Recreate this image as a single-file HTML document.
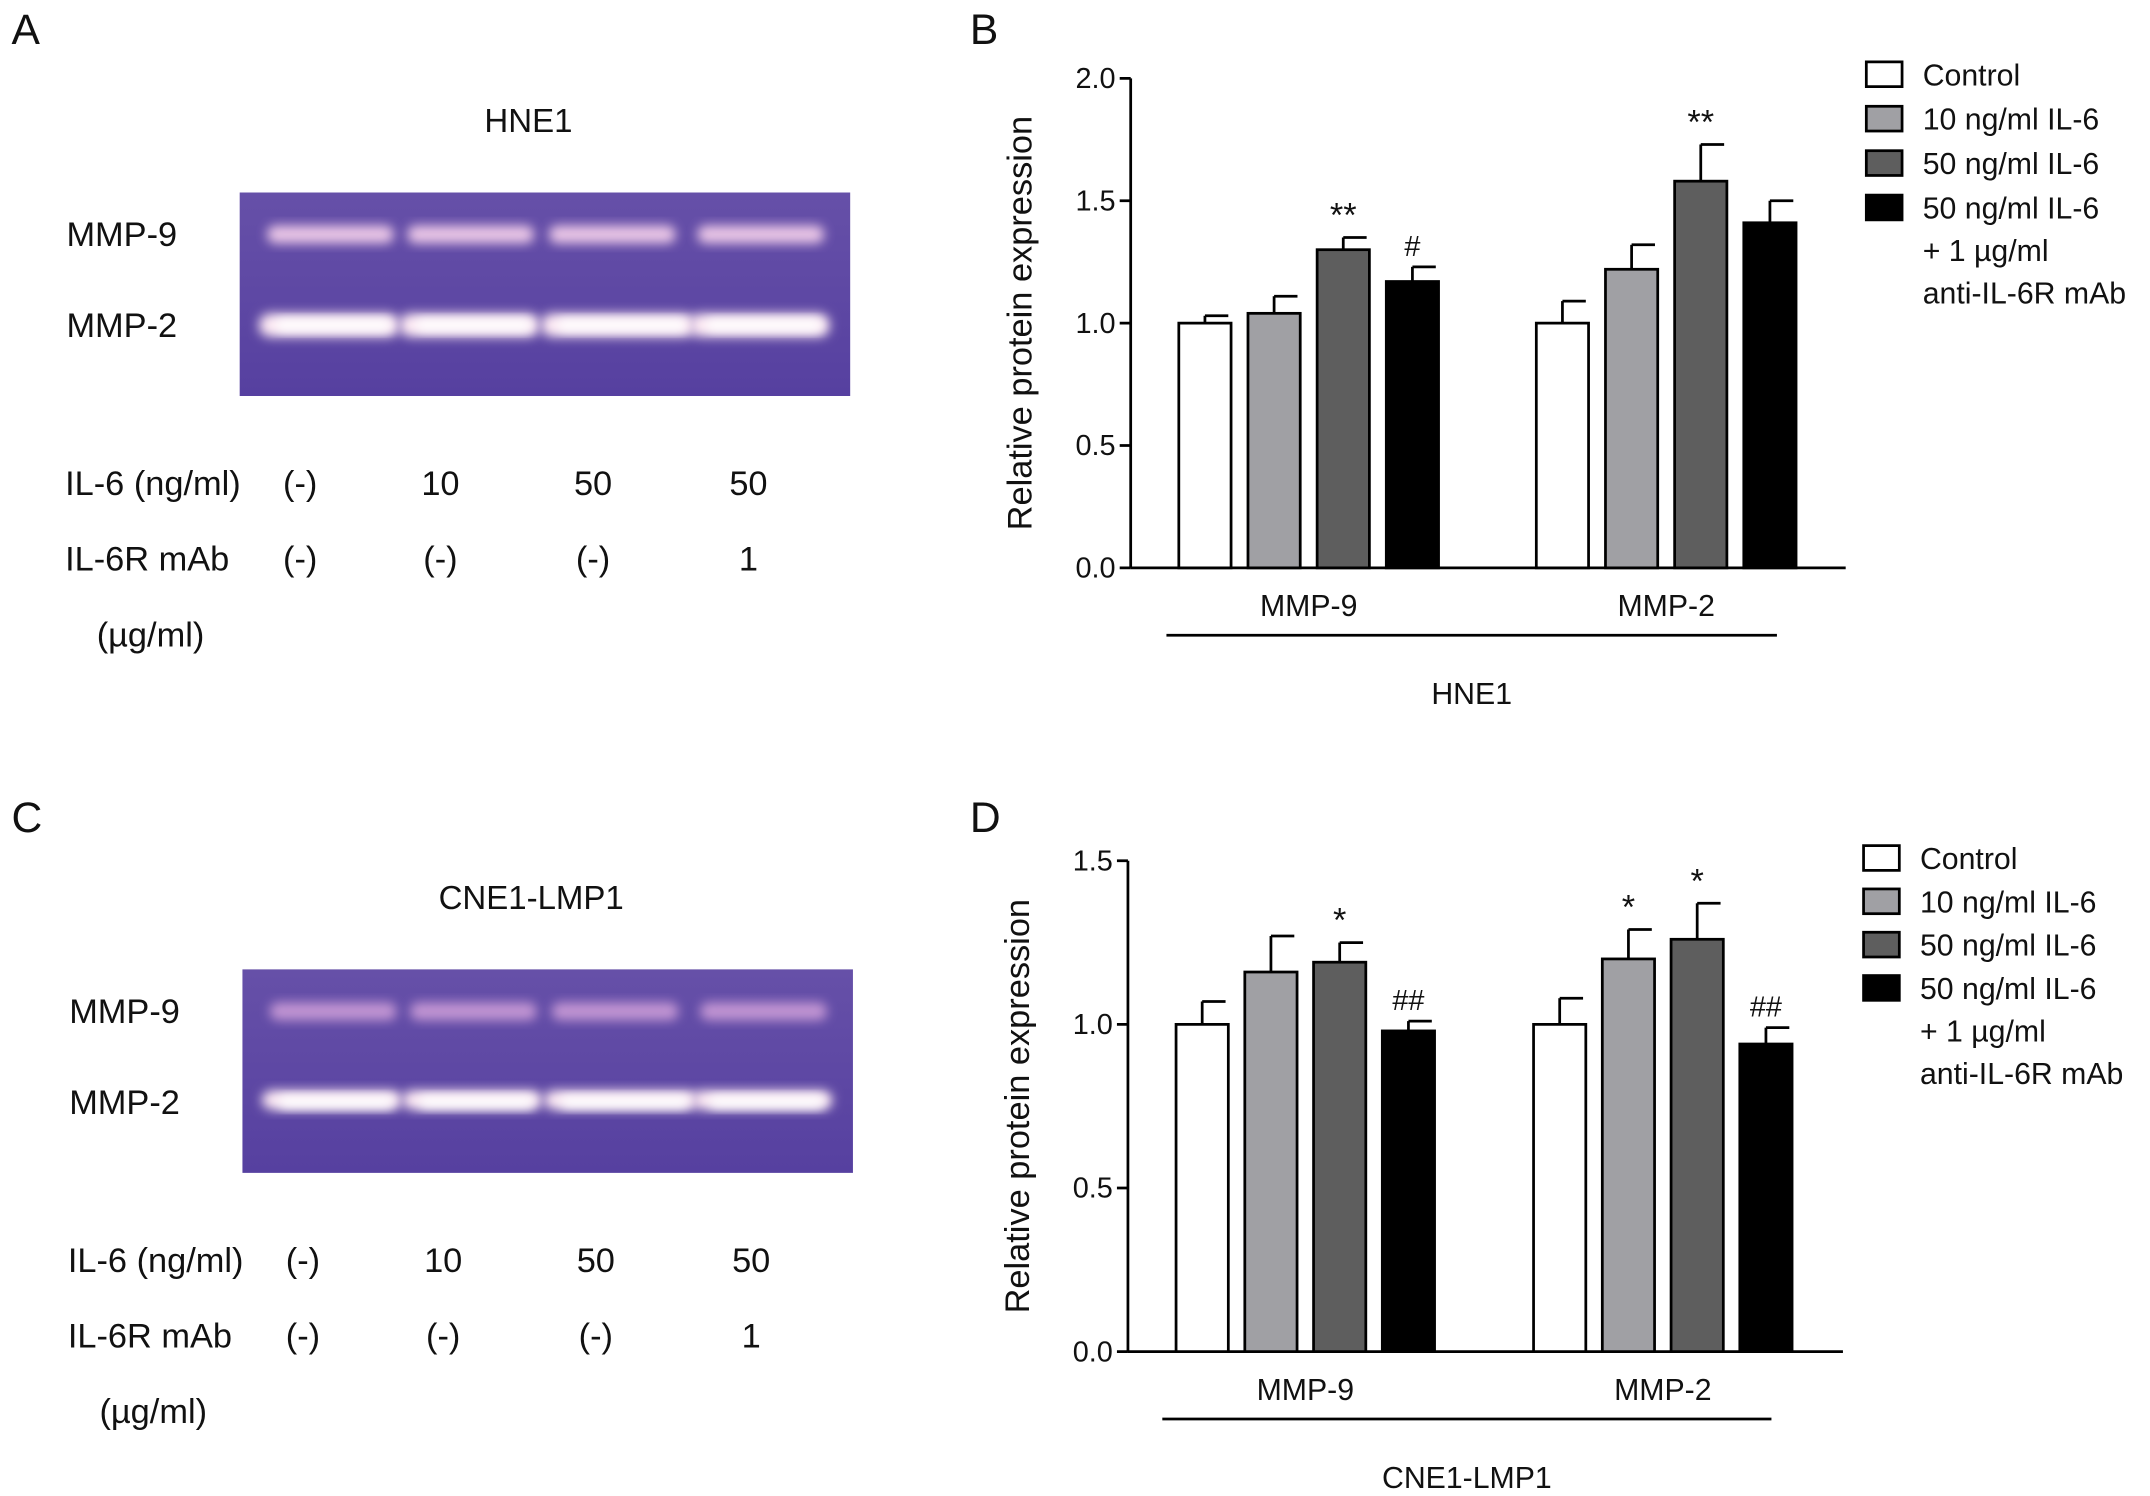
<!DOCTYPE html>
<html><head><meta charset="utf-8"><style>
html,body{margin:0;padding:0;background:#fff}
svg{display:block}
text{font-family:"Liberation Sans",Arial,sans-serif;fill:#111}
</style></head><body>
<svg id="fig" width="2150" height="1496" viewBox="0 0 1563 1088" xmlns="http://www.w3.org/2000/svg">
<defs>
<filter id="blur" x="-20%" y="-50%" width="140%" height="200%"><feGaussianBlur stdDeviation="4"/></filter>
<linearGradient id="gel" x1="0" y1="0" x2="0" y2="1"><stop offset="0" stop-color="#6650a8"/><stop offset="1" stop-color="#5640a0"/></linearGradient>
</defs>
<g id="root"></g>
</svg>
<script>
const groups=["MMP-9","MMP-2"];
const legendLabels=["Control","10 ng/ml IL-6","50 ng/ml IL-6","50 ng/ml IL-6"];
const fills=["#ffffff","#a0a0a4","#5e5e5e","#000000"];
const bValues=[[1.0,1.04,1.30,1.17],[1.0,1.22,1.58,1.41]];
const bErrors=[[0.03,0.07,0.05,0.06],[0.09,0.10,0.15,0.09]];
const bMarks=[["","","**","#"],["","","**",""]];
const bTicks=["0.0","0.5","1.0","1.5","2.0"];
const dValues=[[1.0,1.16,1.19,0.98],[1.0,1.20,1.26,0.94]];
const dErrors=[[0.07,0.11,0.06,0.03],[0.08,0.09,0.11,0.05]];
const dMarks=[["","","*","##"],["","*","*","##"]];
const dTicks=["0.0","0.5","1.0","1.5"];
const gelLanes=["(-)","10","50","50"];
const mabLanes=["(-)","(-)","(-)","1"];

const NS="http://www.w3.org/2000/svg";
const root=document.getElementById('root');
function el(tag,attrs,parent,txt){const e=document.createElementNS(NS,tag);for(const k in attrs)e.setAttribute(k,attrs[k]);if(txt!==undefined)e.textContent=txt;(parent||root).appendChild(e);return e;}

function chart(o){
  const g=el('g',{});
  
  
  const y=v=>o.y0-(v/o.max)*(o.y0-o.yTop);
  const ya=el('line',{x1:o.ax,y1:o.yTop,x2:o.ax,y2:o.y0,stroke:'#000','stroke-width':2},g);
  
  const xa=el('line',{x1:o.ax,y1:o.y0,x2:o.axEnd,y2:o.y0,stroke:'#000','stroke-width':2},g);
  
  o.ticks.forEach(t=>{const v=parseFloat(t);const yy=y(v);
    el('line',{x1:o.ax-8,y1:yy,x2:o.ax,y2:yy,stroke:'#000','stroke-width':2},g);
    const tl=el('text',{x:o.ax-11,y:yy+7,'text-anchor':'end','font-size':21},g,t);
    });
  const yt=el('text',{x:0,y:0,'font-size':25,'text-anchor':'middle',transform:`translate(${o.ax-72},${(o.yTop+o.y0)/2}) rotate(-90)`},g,'Relative protein expression');
  
  o.values.forEach((vals,gi)=>{
    vals.forEach((v,si)=>{
      const x=o.gx[gi]+si*o.step, w=38;
      const top=y(v), et=y(v+o.errors[gi][si]);
      el('line',{x1:x+w/2,y1:top,x2:x+w/2,y2:et,stroke:'#000','stroke-width':2},g);
      el('line',{x1:x+w/2,y1:et,x2:x+w-2,y2:et,stroke:'#000','stroke-width':2},g);
      const b=el('rect',{x:x,y:top,width:w,height:o.y0-top,fill:fills[si],stroke:'#000','stroke-width':2},g);
      
      
      const m=o.marks[gi][si];
      if(m){const t=el('text',{x:x+w/2,y:et-8,'text-anchor':'middle','font-size':m[0]=='#'?21:25},g,m);
        }
    });
    const gl=el('text',{x:o.gx[gi]+1.5*o.step+19,y:o.y0+35,'text-anchor':'middle','font-size':22},g,groups[gi]);
    
  });
  el('line',{x1:o.ulx1,y1:o.y0+49,x2:o.ulx2,y2:o.y0+49,stroke:'#000','stroke-width':2},g);
  const ct=el('text',{x:(o.ulx1+o.ulx2)/2,y:o.y0+99,'text-anchor':'middle','font-size':22},g,o.cell);
  
  const lg=el('g',{},g);
  
  legendLabels.forEach((l,i)=>{const yy=o.legY+i*o.legStep;
    el('rect',{x:o.legX,y:yy,width:26,height:18,fill:fills[i],stroke:'#000','stroke-width':2},lg);
    const t=el('text',{x:o.legX+41,y:yy+17,'font-size':22},lg,l);
    });
  const y3=o.legY+3*o.legStep+17;
  el('text',{x:o.legX+41,y:y3+31,'font-size':22},lg,'+ 1 \u00b5g/ml');
  el('text',{x:o.legX+41,y:y3+62,'font-size':22},lg,'anti-IL-6R mAb');
}
chart({name:'chart-b',ax:822,axEnd:1342,y0:413,yTop:57,max:2.0,ticks:bTicks,values:bValues,errors:bErrors,marks:bMarks,gx:[857,1117],step:50.3,ulx1:848,ulx2:1292,cell:'HNE1',legX:1357,legY:45,legStep:32.3});
chart({name:'chart-d',ax:820,axEnd:1340,y0:983,yTop:626,max:1.5,ticks:dTicks,values:dValues,errors:dErrors,marks:dMarks,gx:[855,1115],step:50,ulx1:845,ulx2:1288,cell:'CNE1-LMP1',legX:1355,legY:615,legStep:31.5});

function gel(o){
  const g=el('g',{});
  
  const t=el('text',{x:o.x+(o.w/2)-12,y:o.y-44,'text-anchor':'middle','font-size':24},g,o.title);
  
  el('rect',{x:o.x,y:o.y,width:o.w,height:148,fill:'url(#gel)'},g);
  const lanes=[o.x+20,o.x+122,o.x+225,o.x+333];
  lanes.forEach((lx,i)=>{
    el('rect',{x:lx,y:o.y+24,width:92,height:13,rx:6,fill:o.b9,filter:'url(#blur)',opacity:0.95},g);
    el('rect',{x:lx-6,y:o.y+88,width:i==2?112:102,height:o.b2h,rx:8,fill:'#fde9f3',filter:'url(#blur)'},g);
    el('rect',{x:lx+6,y:o.y+92,width:i==2?94:84,height:9,rx:4,fill:'#ffffff',filter:'url(#blur)'},g);
  });
  const l9=el('text',{x:o.x-126,y:o.y+39,'font-size':25},g,'MMP-9');
  
  const l2=el('text',{x:o.x-126,y:o.y+105,'font-size':25},g,'MMP-2');
  
  const ty=o.y+220;
  el('text',{x:o.x-127,y:ty,'font-size':25},g,'IL-6 (ng/ml)');
  el('text',{x:o.x-127,y:ty+55,'font-size':25},g,'IL-6R mAb');
  el('text',{x:o.x-104,y:ty+110,'font-size':25},g,'(\u00b5g/ml)');
  const cols=[o.x+44,o.x+146,o.x+257,o.x+370];
  gelLanes.forEach((l,i)=>el('text',{x:cols[i],y:ty,'text-anchor':'middle','font-size':25},g,l));
  mabLanes.forEach((l,i)=>el('text',{x:cols[i],y:ty+55,'text-anchor':'middle','font-size':25},g,l));
}
gel({name:'gel-a',x:174,y:140,w:444,title:'HNE1',b9:'#f2cdea',b2h:17});
gel({name:'gel-c',x:176,y:705,w:444,title:'CNE1-LMP1',b9:'#c89ad6',b2h:14});

[['A',8,32],['B',705,32],['C',8,605],['D',705,605]].forEach(p=>{
  const t=el('text',{x:p[1],y:p[2],'font-size':31},root,p[0]);
  
  
});
</script>
</body></html>
